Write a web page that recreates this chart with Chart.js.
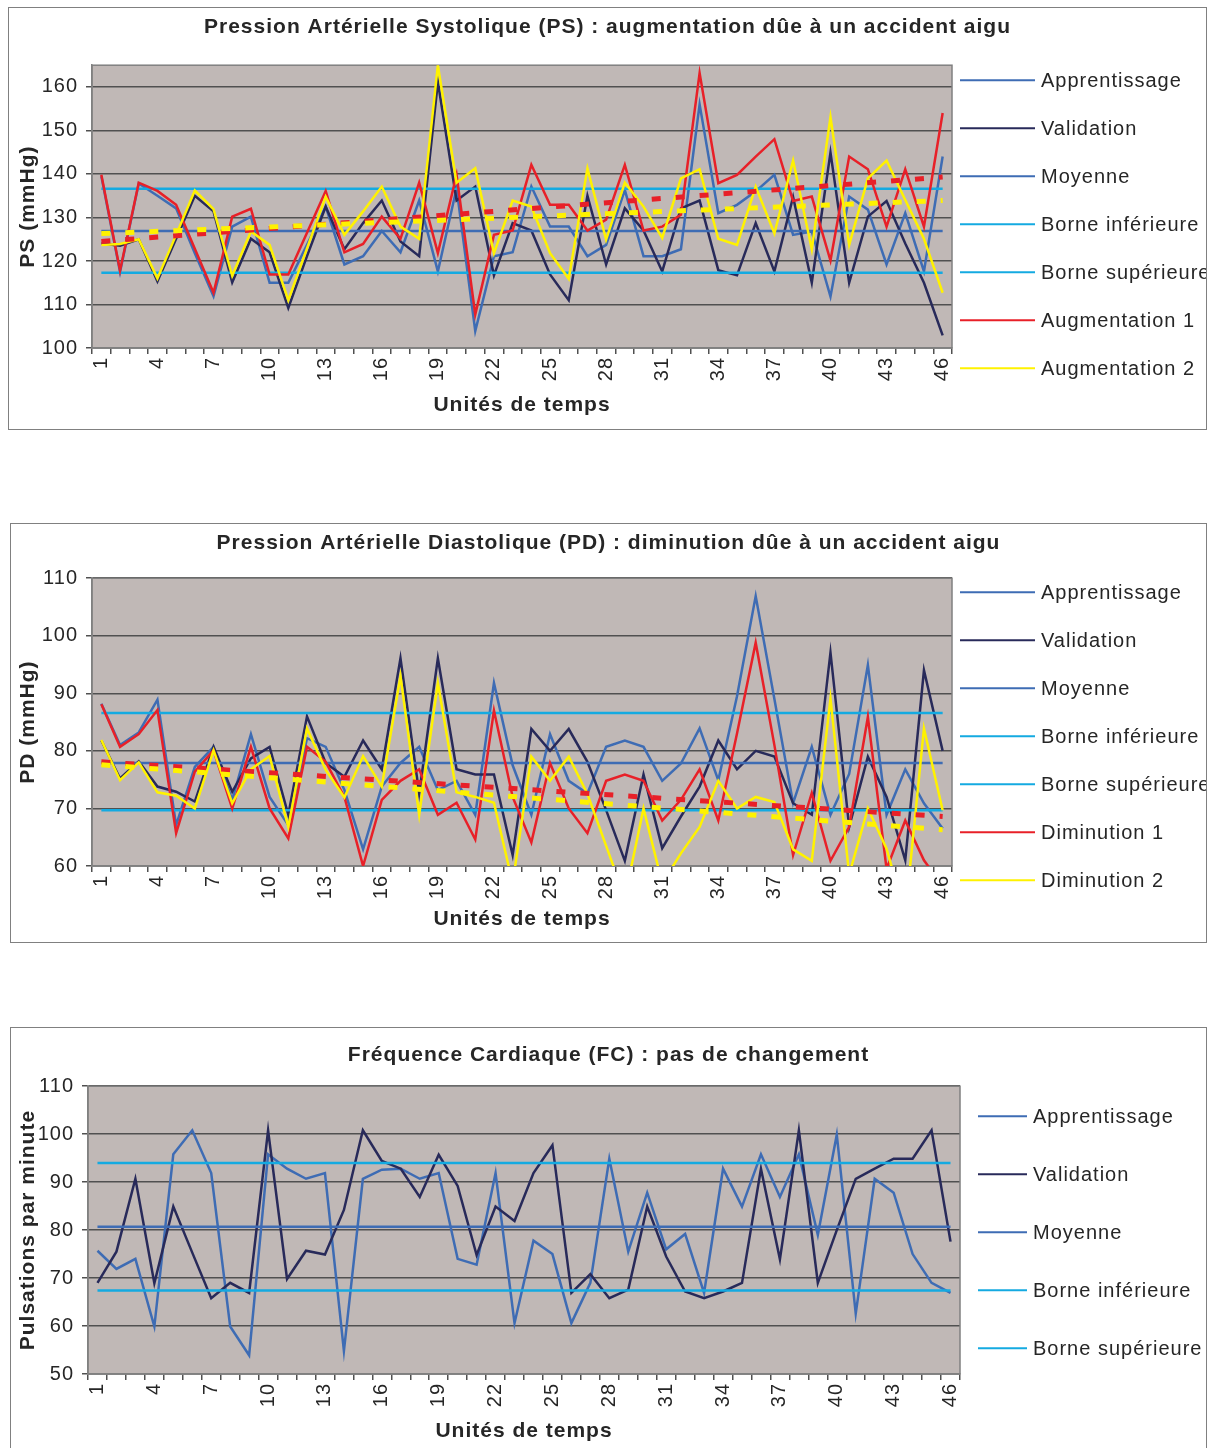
<!DOCTYPE html>
<html lang="fr">
<head>
<meta charset="utf-8">
<script src="https://cdn.jsdelivr.net/npm/chart.js@4.4.0/dist/chart.umd.min.js"></script>
<style>
  html, body { margin: 0; padding: 0; background: #fff; overflow: hidden; }
  .cadre { position: absolute; border: 1px solid #808080; background: #fff; }
  .cadre canvas { display: block; }
</style>
</head>
<body>
<div class="cadre" style="left:8px;top:7px;width:1197px;height:421px"><canvas id="ps" width="1197" height="421"></canvas></div>
<div class="cadre" style="left:10px;top:523px;width:1195px;height:418px"><canvas id="pd" width="1195" height="418"></canvas></div>
<div class="cadre" style="left:10px;top:1027px;width:1195px;height:424px"><canvas id="fc" width="1195" height="424"></canvas></div>
<script>
// unités de temps (abscisse)
var unites = ['1','2','3','4','5','6','7','8','9','10','11','12','13','14','15','16','17','18','19','20','21','22','23',
              '24','25','26','27','28','29','30','31','32','33','34','35','36','37','38','39','40','41','42','43','44','45','46'];

// PS (mmHg)
var psGraduations = [100, 110, 120, 130, 140, 150, 160];
var psApprentissage = [139.5, 117.5, 137.8, 135.0, 132.1, 121.8, 111.9, 127.9, 130.2, 115.0,
                       115.0, 123.7, 132.5, 119.2, 121.1, 126.9, 122.0, 133.9, 117.6, 136.7,
                       103.9, 121.1, 122.0, 137.1, 127.9, 127.9, 121.1, 123.7, 136.3, 121.1,
                       121.1, 122.7, 156.0, 131.0, 132.9, 136.0, 139.8, 126.0, 126.8, 111.8,
                       134.8, 131.8, 119.2, 131.0, 117.6, 144.0];
var psValidation = [124.0, 123.5, 125.0, 115.3, 125.1, 135.0, 131.4, 115.1, 125.1, 122.0,
                    109.2, 121.1, 132.5, 122.7, 128.7, 133.9, 124.5, 121.1, 161.1, 133.9,
                    137.1, 116.7, 128.7, 127.0, 116.9, 111.0, 135.0, 119.2, 132.1, 127.0,
                    117.6, 132.1, 133.9, 117.9, 116.7, 128.7, 117.6, 134.7, 115.0, 144.9,
                    115.0, 130.2, 133.8, 124.0, 115.0, 102.9];
var psAugmentation1 = [139.8, 117.8, 138.0, 136.1, 132.9, 122.8, 112.7, 130.2, 132.0, 116.9,
                       116.9, 126.5, 136.1, 122.0, 123.9, 130.2, 125.1, 138.0, 121.8, 139.8,
                       107.7, 126.0, 127.0, 142.1, 132.9, 132.9, 127.0, 129.5, 142.1, 127.0,
                       127.9, 130.6, 163.2, 137.9, 139.8, 144.0, 148.0, 133.8, 134.8, 120.1,
                       144.0, 141.1, 127.9, 141.1, 127.9, 154.0];
var psAugmentation2 = [123.7, 123.9, 125.0, 116.0, 126.0, 136.2, 131.9, 116.6, 126.8, 123.7,
                       111.0, 122.9, 134.8, 126.0, 131.4, 137.1, 127.9, 125.1, 165.0, 138.0,
                       141.3, 121.8, 133.9, 132.5, 121.8, 115.9, 141.3, 124.9, 138.0, 132.5,
                       125.3, 139.0, 141.1, 125.1, 123.7, 137.1, 126.3, 143.1, 122.7, 153.1,
                       123.7, 139.0, 143.1, 134.0, 125.1, 112.7];
var psRepere = [126.9, 117.3, 136.6];      // moyenne, borne inférieure, borne supérieure
var psTendance1 = [124.5, 139.3];          // tendance linéaire, début / fin
var psTendance2 = [126.3, 133.9];

// PD (mmHg)
var pdGraduations = [60, 70, 80, 90, 100, 110];
var pdApprentissage = [88.2, 81.0, 83.2, 88.9, 67.1, 77.2, 80.7, 71.5, 82.9, 72.0,
                       67.1, 82.2, 80.7, 73.2, 62.9, 73.8, 77.9, 80.7, 73.2, 74.8,
                       68.9, 91.8, 77.5, 68.9, 82.9, 74.8, 72.6, 80.7, 81.8, 80.7,
                       74.8, 77.8, 83.9, 74.9, 89.5, 106.9, 89.0, 70.9, 80.7, 68.9,
                       76.0, 94.9, 68.9, 76.8, 70.9, 66.5];
var pdValidation = [81.8, 75.2, 78.2, 73.8, 72.9, 71.2, 80.7, 72.9, 78.7, 80.7,
                    68.9, 86.0, 77.9, 75.5, 81.8, 76.8, 96.1, 72.6, 96.1, 76.8,
                    75.9, 75.9, 61.9, 83.8, 80.0, 83.8, 78.1, 69.7, 60.9, 75.9,
                    63.1, 68.6, 73.8, 81.8, 76.8, 80.0, 79.0, 70.9, 68.9, 97.1,
                    66.8, 79.0, 72.0, 61.0, 94.0, 80.0];
var pdDiminution1 = [88.1, 80.7, 82.9, 87.1, 65.7, 76.4, 80.1, 70.0, 80.7, 70.0,
                     64.8, 80.7, 78.1, 72.0, 60.0, 71.5, 74.8, 76.8, 68.9, 71.0,
                     64.6, 87.0, 72.0, 64.1, 77.9, 70.0, 65.7, 74.8, 75.9, 74.8,
                     67.9, 71.5, 76.8, 67.9, 83.0, 98.8, 81.0, 61.9, 72.7, 60.9,
                     66.8, 85.9, 59.5, 67.9, 61.0, 56.5];
var pdDiminution2 = [81.9, 74.9, 78.0, 72.8, 72.2, 70.0, 80.1, 70.9, 76.8, 79.1,
                     66.8, 83.9, 76.7, 71.9, 79.1, 73.8, 93.0, 68.9, 91.8, 72.8,
                     72.0, 71.0, 57.0, 79.0, 74.8, 79.0, 72.5, 63.5, 54.5, 70.0,
                     57.0, 62.2, 66.8, 74.8, 70.0, 72.0, 71.1, 62.9, 60.9, 89.1,
                     58.5, 70.0, 63.0, 51.5, 83.9, 69.7];
var pdRepere = [77.9, 69.7, 86.6];
var pdTendance1 = [78.1, 68.6];
var pdTendance2 = [77.6, 66.3];

// FC (pulsations par minute)
var fcGraduations = [50, 60, 70, 80, 90, 100, 110];
var fcApprentissage = [75.7, 71.9, 74.0, 59.9, 95.8, 100.8, 91.9, 59.9, 53.9, 95.8,
                       92.8, 90.7, 91.9, 54.8, 90.7, 92.6, 92.8, 90.7, 91.9, 74.0,
                       72.8, 91.9, 60.6, 77.8, 75.0, 60.6, 69.0, 94.9, 75.5, 87.8,
                       76.0, 79.2, 66.9, 92.8, 84.9, 95.8, 86.9, 95.8, 79.0, 99.9,
                       62.6, 90.7, 87.8, 75.0, 69.0, 66.9];
var fcValidation = [69.0, 75.5, 90.7, 68.9, 84.9, 75.3, 65.8, 69.0, 66.9, 100.8,
                    69.8, 75.7, 74.9, 84.2, 100.8, 94.4, 92.8, 86.9, 95.7, 89.2,
                    74.8, 84.9, 81.9, 91.9, 97.7, 66.9, 70.8, 65.8, 67.6, 84.9,
                    74.5, 67.2, 65.8, 67.2, 69.0, 92.8, 73.9, 100.8, 69.0, 80.0,
                    90.7, 92.8, 94.9, 94.9, 100.8, 77.6];
var fcRepere = [80.7, 67.4, 94.0];

var BLEU = '#3E6CB4', MARINE = '#282A5A', CYAN = '#14AAE1', ROUGE = '#E82028', JAUNE = '#FFF200';
var TEXTE = '#262626';

Chart.defaults.font.family = '"Liberation Sans", Arial, sans-serif';
Chart.defaults.color = TEXTE;

// texte légèrement espacé, comme dans l'export d'origine
var espacement = {
  id: 'espacement',
  beforeLayout: function(chart) { chart.ctx.letterSpacing = '1px'; },
  beforeDraw: function(chart) { chart.ctx.letterSpacing = '1px'; }
};

// fond gris de la zone de tracé + cadre
var fondGraphique = {
  id: 'fondGraphique',
  beforeDraw: function(chart) {
    var a = chart.chartArea, ctx = chart.ctx;
    ctx.save();
    ctx.fillStyle = '#C0B8B6';
    ctx.fillRect(a.left, a.top, a.right - a.left, a.bottom - a.top);
    ctx.restore();
  },
  beforeDatasetsDraw: function(chart) {
    var a = chart.chartArea, ctx = chart.ctx;
    ctx.save();
    ctx.strokeStyle = '#808080';
    ctx.lineWidth = 1.5;
    ctx.strokeRect(a.left, a.top, a.right - a.left, a.bottom - a.top);
    ctx.restore();
  }
};

// légende à droite, une ligne par série
var legendeLaterale = {
  id: 'legendeLaterale',
  afterDraw: function(chart, args, opts) {
    var a = chart.chartArea, ctx = chart.ctx;
    var y = a.top + opts.top;
    ctx.save();
    ctx.font = '20px "Liberation Sans", Arial, sans-serif';
    ctx.textBaseline = 'middle';
    ctx.fillStyle = TEXTE;
    chart.data.datasets.forEach(function(ds) {
      if (ds.horsLegende) return;
      ctx.strokeStyle = ds.borderColor;
      ctx.lineWidth = 2;
      ctx.beginPath();
      ctx.moveTo(a.right + opts.debut, y);
      ctx.lineTo(a.right + opts.debut + opts.longueur, y);
      ctx.stroke();
      ctx.fillText(ds.label, a.right + opts.texte, y + 1);
      y += opts.pas;
    });
    ctx.restore();
  }
};

function serie(label, data, color, order) {
  return { label: label, data: data, borderColor: color, backgroundColor: color,
           borderWidth: 2.5, pointRadius: 0, tension: 0, order: order };
}

function horizontale(label, valeur, color, order) {
  return serie(label, [{x: unites[0], y: valeur}, {x: unites[unites.length - 1], y: valeur}], color, order);
}

function tendance(points, color, order) {
  return { label: '', data: [{x: unites[0], y: points[0]}, {x: unites[unites.length - 1], y: points[1]}],
           borderColor: color, borderWidth: 5, borderDash: [9, 15], pointRadius: 0,
           order: order, horsLegende: true };
}

function printChart(id, datasets, g) {
  var ctx = document.getElementById(id);
  return new Chart(ctx, {
    type: 'line',
    data: { labels: unites, datasets: datasets },
    plugins: [espacement, fondGraphique, legendeLaterale],
    options: {
      responsive: false,
      animation: false,
      layout: { padding: 0 },
      plugins: {
        legend: { display: false },
        tooltip: { enabled: false },
        title: {
          display: true, text: g.titre, color: TEXTE,
          font: { size: 21, weight: 'bold' },
          padding: { top: g.titreHaut, bottom: g.titreBas }
        },
        legendeLaterale: g.legende
      },
      scales: {
        x: {
          offset: true,
          grid: { offset: true, drawOnChartArea: false, tickLength: 6, color: '#505050', lineWidth: 1.5 },
          border: { display: true, color: '#808080', width: 1.5 },
          ticks: {
            autoSkip: false, minRotation: 90, maxRotation: 90, padding: 3,
            font: { size: 20 },
            callback: function(v, i) { return i % 3 === 0 ? unites[i] : ''; }
          },
          title: { display: true, text: 'Unités de temps', font: { size: 21, weight: 'bold' },
                   padding: { top: 0, bottom: g.xTitreBas } },
          afterFit: function(s) { s.height = g.xHauteur; }
        },
        y: {
          min: g.min, max: g.max,
          grid: { color: '#505050', lineWidth: 1.5, tickLength: 6 },
          border: { display: true, color: '#808080', width: 1.5 },
          ticks: { padding: 8, font: { size: 20 } },
          afterBuildTicks: function(s) {
            s.ticks = g.graduations.map(function(v) { return { value: v }; });
          },
          title: { display: true, text: g.yTitre, font: { size: 21, weight: 'bold' },
                   padding: { top: g.yTitreHaut, bottom: 0 } },
          afterFit: function(s) { s.width = g.yLargeur; }
        },
        // colonne réservée à la légende
        marge: {
          type: 'linear', position: 'right', display: true,
          grid: { display: false, drawTicks: false },
          border: { display: false },
          ticks: { display: false },
          afterFit: function(s) { s.width = g.droite; }
        }
      }
    }
  });
}

printChart('ps', [
  serie('Apprentissage', psApprentissage, BLEU, 6),
  serie('Validation', psValidation, MARINE, 5),
  horizontale('Moyenne', psRepere[0], BLEU, 4),
  horizontale('Borne inférieure', psRepere[1], CYAN, 3),
  horizontale('Borne supérieure', psRepere[2], CYAN, 2),
  serie('Augmentation 1', psAugmentation1, ROUGE, 1),
  serie('Augmentation 2', psAugmentation2, JAUNE, 0),
  tendance(psTendance1, ROUGE, -1),
  tendance(psTendance2, JAUNE, -2)
], {
  titre: 'Pression Artérielle Systolique (PS) : augmentation dûe à un accident aigu',
  titreHaut: 7, titreBas: 25, droite: 254,
  min: 100, max: 165, graduations: psGraduations,
  yTitre: 'PS (mmHg)', yLargeur: 83, yTitreHaut: 7,
  xHauteur: 81, xTitreBas: 11,
  legende: { top: 15, pas: 48, debut: 8, longueur: 75, texte: 89 }
});

printChart('pd', [
  serie('Apprentissage', pdApprentissage, BLEU, 6),
  serie('Validation', pdValidation, MARINE, 5),
  horizontale('Moyenne', pdRepere[0], BLEU, 4),
  horizontale('Borne inférieure', pdRepere[1], CYAN, 3),
  horizontale('Borne supérieure', pdRepere[2], CYAN, 2),
  serie('Diminution 1', pdDiminution1, ROUGE, 1),
  serie('Diminution 2', pdDiminution2, JAUNE, 0),
  tendance(pdTendance1, ROUGE, -1),
  tendance(pdTendance2, JAUNE, -2)
], {
  titre: 'Pression Artérielle Diastolique (PD) : diminution dûe à un accident aigu',
  titreHaut: 7, titreBas: 22, droite: 254,
  min: 60, max: 110, graduations: pdGraduations,
  yTitre: 'PD (mmHg)', yLargeur: 81, yTitreHaut: 5,
  xHauteur: 76, xTitreBas: 10,
  legende: { top: 14, pas: 48, debut: 8, longueur: 75, texte: 89 }
});

printChart('fc', [
  serie('Apprentissage', fcApprentissage, BLEU, 6),
  serie('Validation', fcValidation, MARINE, 5),
  horizontale('Moyenne', fcRepere[0], BLEU, 4),
  horizontale('Borne inférieure', fcRepere[1], CYAN, 3),
  horizontale('Borne supérieure', fcRepere[2], CYAN, 2)
], {
  titre: 'Fréquence Cardiaque (FC) : pas de changement',
  titreHaut: 15, titreBas: 18, droite: 246,
  min: 50, max: 110, graduations: fcGraduations,
  yTitre: 'Pulsations par minute', yLargeur: 77, yTitreHaut: 5,
  xHauteur: 78, xTitreBas: 8,
  legende: { top: 30, pas: 58, debut: 18, longueur: 49, texte: 73 }
});
</script>
</body>
</html>
